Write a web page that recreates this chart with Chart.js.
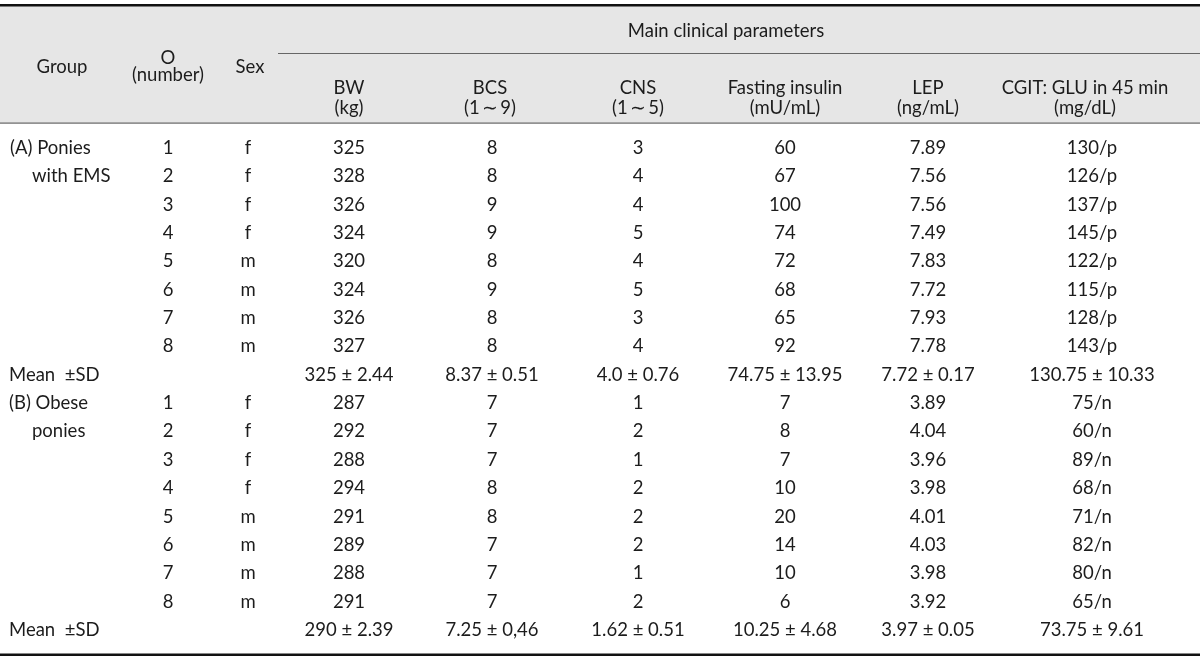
<!DOCTYPE html>
<html>
<head>
<meta charset="utf-8">
<script src="https://cdn.jsdelivr.net/npm/chart.js@4/dist/chart.umd.min.js"></script>
<style>
  html, body { margin: 0; padding: 0; background: #fff; }
  #wrap { width: 1200px; height: 661px; }
</style>
</head>
<body>
<div id="wrap"><canvas id="myChart" width="1200" height="661"></canvas></div>
<script>
const groupA = '(A) Ponies', groupA2 = 'with EMS'
const groupB = '(B) Obese', groupB2 = 'ponies'
const ponyNo = [1, 2, 3, 4, 5, 6, 7, 8]
const sexA = ['f', 'f', 'f', 'f', 'm', 'm', 'm', 'm']
const sexB = ['f', 'f', 'f', 'f', 'm', 'm', 'm', 'm']

const bwA = [325, 328, 326, 324, 320, 324, 326, 327]
const bcsA = [8, 8, 9, 9, 8, 9, 8, 8]
const cnsA = [3, 4, 4, 5, 4, 5, 3, 4]
const insulinA = [60, 67, 100, 74, 72, 68, 65, 92]
const lepA = [7.89, 7.56, 7.56, 7.49, 7.83, 7.72, 7.93, 7.78]
const gluA = [130, 126, 137, 145, 122, 115, 128, 143]
const meanA = ['325', '8.37', '4.0', '74.75', '7.72', '130.75']
const sdA = ['2.44', '0.51', '0.76', '13.95', '0.17', '10.33']

const bwB = [287, 292, 288, 294, 291, 289, 288, 291]
const bcsB = [7, 7, 7, 8, 8, 7, 7, 7]
const cnsB = [1, 2, 1, 2, 2, 2, 1, 2]
const insulinB = [7, 8, 7, 10, 20, 14, 10, 6]
const lepB = [3.89, 4.04, 3.96, 3.98, 4.01, 4.03, 3.98, 3.92]
const gluB = [75, 60, 89, 68, 71, 82, 80, 65]
const meanB = ['290', '7.25', '1.62', '10.25', '3.97', '73.75']
const sdB = ['2.39', '0,46', '0.51', '4.68', '0.05', '9.61']

const paramHeads = [['BW', '(kg)'], ['BCS', '(1\u2009\u223c\u20099)'], ['CNS', '(1\u2009\u223c\u20095)'],
  ['Fasting insulin', '(mU/mL)'], ['LEP', '(ng/mL)'], ['CGIT: GLU in 45 min', '(mg/dL)']]

// --- layout ---
const colX = [168, 248, 349, 492, 638, 785, 928, 1092]   // O, Sex, BW, BCS, CNS, insulin, LEP, GLU
const headX = [349, 490, 638, 785, 928, 1085]
const rowTop = 148, rowGap = 28.35
const FONT = '18.5px Lato'
const INK = '#1c1c1c'

// one dataset per column; rows 0-7 group A, 8 mean A, 9-16 group B, 17 mean B
function col(x, a, b, fmt, ma, sa, mbv, sbv) {
  const pts = [], texts = []
  a.forEach((v, i) => { pts.push({ x: x, y: i }); texts.push(fmt(v, 'p')) })
  if (ma) { pts.push({ x: x, y: 8 }); texts.push(ma + ' \u00b1 ' + sa) }
  b.forEach((v, i) => { pts.push({ x: x, y: 9 + i }); texts.push(fmt(v, 'n')) })
  if (mbv) { pts.push({ x: x, y: 17 }); texts.push(mbv + ' \u00b1 ' + sbv) }
  return { data: pts, texts: texts, pointRadius: 0, showLine: false }
}
const plain = v => String(v)
const datasets = [
  col(colX[0], ponyNo, ponyNo, plain),
  col(colX[1], sexA, sexB, plain),
  col(colX[2], bwA, bwB, plain, meanA[0], sdA[0], meanB[0], sdB[0]),
  col(colX[3], bcsA, bcsB, plain, meanA[1], sdA[1], meanB[1], sdB[1]),
  col(colX[4], cnsA, cnsB, plain, meanA[2], sdA[2], meanB[2], sdB[2]),
  col(colX[5], insulinA, insulinB, plain, meanA[3], sdA[3], meanB[3], sdB[3]),
  col(colX[6], lepA, lepB, v => v.toFixed(2), meanA[4], sdA[4], meanB[4], sdB[4]),
  col(colX[7], gluA, gluB, (v, s) => v + '/' + s, meanA[5], sdA[5], meanB[5], sdB[5])
]

const tablePlugin = {
  id: 'tableText',
  beforeDatasetsDraw(chart) {
    const c = chart.ctx
    c.save()
    c.fillStyle = '#e6e6e6'
    c.fillRect(0, 6, 1200, 117)
    c.fillStyle = '#111'
    c.fillRect(0, 4, 1200, 2.5)
    c.fillRect(0, 653.5, 1200, 2.5)
    c.fillStyle = '#666'
    c.fillRect(278, 53, 922, 1)
    c.fillRect(0, 122.5, 1200, 1.2)

    c.font = FONT
    c.fillStyle = INK
    c.textBaseline = 'middle'
    c.textAlign = 'center'
    c.fillText('Group', 62, 67)
    c.fillText('O', 168, 58)
    c.fillText('(number)', 168, 75)
    c.fillText('Sex', 250, 67)
    c.fillText('Main clinical parameters', 726, 31)
    paramHeads.forEach((h, i) => {
      c.fillText(h[0], headX[i], 88)
      c.fillText(h[1], headX[i], 108)
    })

    // group labels, left aligned
    const y = chart.scales.y
    c.textAlign = 'left'
    c.fillText(groupA, 10, y.getPixelForValue(0))
    c.fillText(groupA2, 32, y.getPixelForValue(1))
    c.fillText('Mean  \u00b1SD', 9, y.getPixelForValue(8))
    c.fillText(groupB, 9, y.getPixelForValue(9))
    c.fillText(groupB2, 32, y.getPixelForValue(10))
    c.fillText('Mean  \u00b1SD', 9, y.getPixelForValue(17))
    c.restore()
  },
  afterDatasetsDraw(chart) {
    const c = chart.ctx
    c.save()
    c.font = FONT
    c.fillStyle = INK
    c.textAlign = 'center'
    c.textBaseline = 'middle'
    chart.data.datasets.forEach((ds, di) => {
      chart.getDatasetMeta(di).data.forEach((el, i) => {
        c.fillText(ds.texts[i], el.x, el.y)
      })
    })
    c.restore()
  }
}

const ctx = document.getElementById('myChart')
new Chart(ctx, {
  type: 'scatter',
  data: { datasets: datasets },
  options: {
    responsive: false,
    animation: false,
    events: [],
    layout: { padding: 0 },
    plugins: { legend: { display: false }, tooltip: { enabled: false } },
    scales: {
      x: { type: 'linear', min: 0, max: 1200, display: false },
      y: { type: 'linear', reverse: true, min: -rowTop / rowGap, max: (661 - rowTop) / rowGap, display: false }
    }
  },
  plugins: [tablePlugin]
})
</script>
</body>
</html>
